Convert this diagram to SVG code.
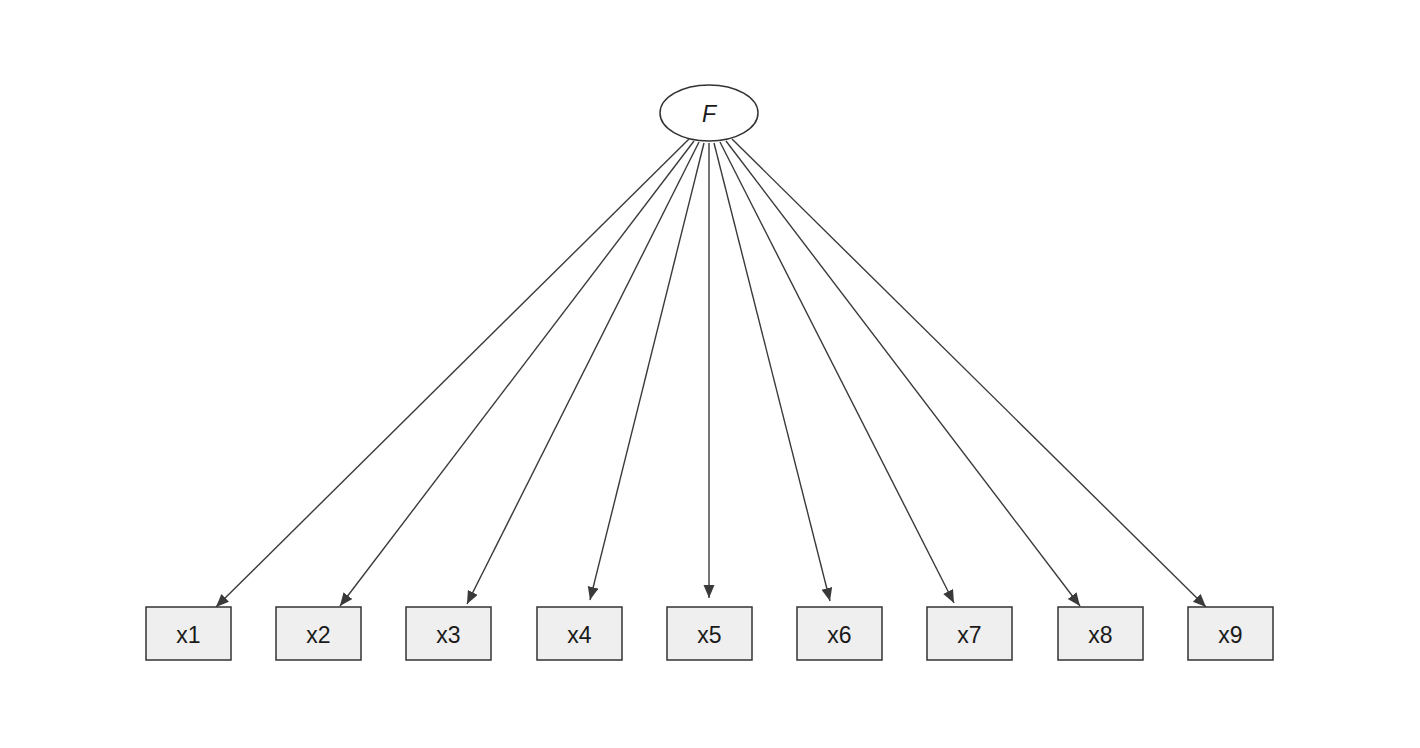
<svg xmlns="http://www.w3.org/2000/svg" width="1420" height="748" viewBox="0 0 1420 748">
<style>
.box{fill:#efefef;stroke:#333;stroke-width:1.5}
.lbl{font-family:"Liberation Sans",Arial,sans-serif;font-size:23px;fill:#1a1a1a;text-anchor:middle}
.e{stroke:#3a3a3a;stroke-width:1.4;fill:none;marker-end:url(#ah)}
</style>
<defs><marker id="ah" markerWidth="14" markerHeight="12" refX="13" refY="5.5" orient="auto" markerUnits="userSpaceOnUse"><path d="M0,0 L13,5.5 L0,11 Z" fill="#3a3a3a"/></marker></defs>
<rect width="1420" height="748" fill="#fff"/>
<g id="edges">
<line class="e" x1="689" y1="139" x2="216" y2="607"/>
<line class="e" x1="694" y1="141" x2="340" y2="606"/>
<line class="e" x1="699" y1="142" x2="467" y2="604"/>
<line class="e" x1="704" y1="143" x2="590" y2="600"/>
<line class="e" x1="709" y1="143" x2="709" y2="598"/>
<line class="e" x1="714" y1="143" x2="830" y2="601"/>
<line class="e" x1="720" y1="142" x2="954" y2="603"/>
<line class="e" x1="726" y1="141" x2="1080" y2="606"/>
<line class="e" x1="732" y1="139" x2="1206" y2="607"/>
</g>
<g id="F"><ellipse cx="709" cy="113" rx="49" ry="28" fill="#fff" stroke="#333" stroke-width="1.5"/><text class="lbl" x="709" y="122" font-style="italic">F</text></g>
<g id="x1"><rect class="box" x="146" y="607" width="85" height="53"/><text class="lbl" x="188.5" y="643">x1</text></g>
<g id="x2"><rect class="box" x="276" y="607" width="85" height="53"/><text class="lbl" x="318.5" y="643">x2</text></g>
<g id="x3"><rect class="box" x="406" y="607" width="85" height="53"/><text class="lbl" x="448.5" y="643">x3</text></g>
<g id="x4"><rect class="box" x="537" y="607" width="85" height="53"/><text class="lbl" x="579.5" y="643">x4</text></g>
<g id="x5"><rect class="box" x="667" y="607" width="85" height="53"/><text class="lbl" x="709.5" y="643">x5</text></g>
<g id="x6"><rect class="box" x="797" y="607" width="85" height="53"/><text class="lbl" x="839.5" y="643">x6</text></g>
<g id="x7"><rect class="box" x="927" y="607" width="85" height="53"/><text class="lbl" x="969.5" y="643">x7</text></g>
<g id="x8"><rect class="box" x="1058" y="607" width="85" height="53"/><text class="lbl" x="1100.5" y="643">x8</text></g>
<g id="x9"><rect class="box" x="1188" y="607" width="85" height="53"/><text class="lbl" x="1230.5" y="643">x9</text></g>
</svg>
